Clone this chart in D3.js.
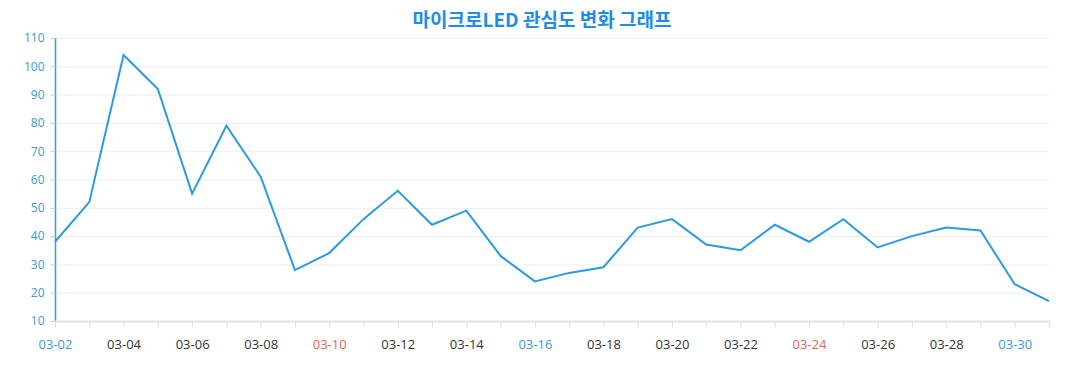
<!DOCTYPE html>
<html><head><meta charset="utf-8">
<script src="https://cdn.jsdelivr.net/npm/d3@7"></script>
<style>body{margin:0;background:#fff;} svg{display:block;}</style>
</head><body>
<svg id="c" width="1077" height="390"></svg>
<script>
const title = "마이크로LED 관심도 변화 그래프";
const dates = ["03-02","03-03","03-04","03-05","03-06","03-07","03-08","03-09","03-10","03-11","03-12","03-13","03-14","03-15","03-16","03-17","03-18","03-19","03-20","03-21","03-22","03-23","03-24","03-25","03-26","03-27","03-28","03-29","03-30","03-31"];
const values = [38,52,104,92,55,79,61,28,34,46,56,44,49,33,24,27,29,43,46,37,35,44,38,46,36,40,43,42,23,17];
const yTicks = [10,20,30,40,50,60,70,80,90,100,110];
const blueLabels = ["03-02","03-16","03-30"];
const redLabels = ["03-10","03-24"];

const svg = d3.select("#c");
const L = 55, R = 1049, T = 38, B = 321;
const x = d3.scalePoint().domain(dates).range([L, R]);
const y = d3.scaleLinear().domain([10, 110]).range([B, T]);

svg.append("text").attr("x", 542).attr("y", 27).attr("text-anchor", "middle")
  .attr("font-family", "'Noto Sans CJK KR', 'Noto Sans', sans-serif").attr("font-weight", "bold")
  .attr("font-size", 19).attr("fill", "#1e8de6").text(title);

// grid
svg.append("g").selectAll("line").data(yTicks.filter(d => d > 10)).join("line")
  .attr("x1", L).attr("x2", R).attr("y1", d => y(d) + 0.5).attr("y2", d => y(d) + 0.5)
  .attr("stroke", "#eeeeee").attr("stroke-width", 1);

// y axis
const ya = svg.append("g").attr("transform", `translate(${L + 0.5},0)`)
  .call(d3.axisLeft(y).tickValues(yTicks).tickSize(5).tickPadding(6));
ya.select(".domain").attr("stroke", "#3a9ad9").attr("stroke-width", 1.5).attr("d", `M0,${T}V${B}`);
ya.selectAll(".tick line").attr("stroke", "#cccccc");
ya.selectAll(".tick text").attr("fill", "#3a9ad9").attr("font-family", "'Open Sans', sans-serif").attr("font-size", 12);

// x axis
const xa = svg.append("g").attr("transform", `translate(0,${B + 0.5})`)
  .call(d3.axisBottom(x).tickSize(6).tickPadding(12).tickFormat(d => d));
xa.select(".domain").attr("stroke", "#e2e2e2").attr("stroke-width", 2).attr("d", `M${L},0H${R}`);
xa.selectAll(".tick line").attr("stroke", "#dddddd");
xa.selectAll(".tick text")
  .attr("font-family", "'Open Sans', sans-serif").attr("font-size", 13)
  .attr("fill", d => blueLabels.includes(d) ? "#3a9ad9" : redLabels.includes(d) ? "#df6650" : "#333333")
  .style("display", (d, i) => i % 2 === 0 ? null : "none");

// line
svg.append("path").datum(values)
  .attr("fill", "none").attr("stroke", "#2a9ae3").attr("stroke-width", 2)
  .attr("stroke-linejoin", "miter")
  .attr("d", d3.line().x((d, i) => x(dates[i])).y(d => y(d)));
</script>
</body></html>
